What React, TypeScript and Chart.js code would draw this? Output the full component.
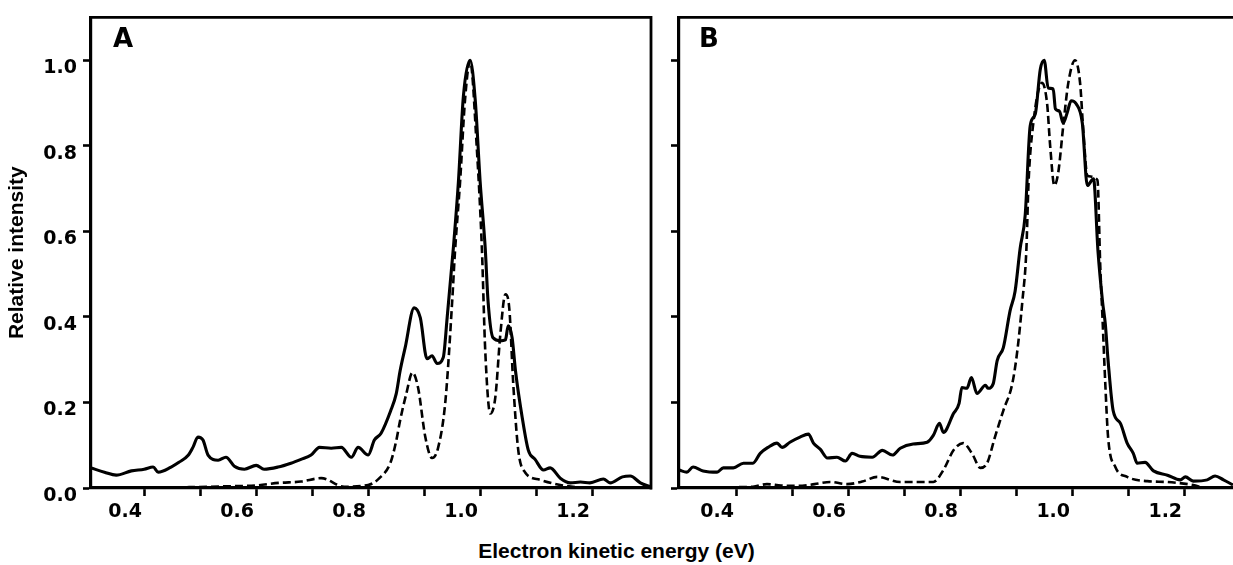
import React, { useEffect, useRef } from "react";
import Chart from "chart.js/auto";

// ---- Panel A ----
const A_SOLID_E = [
  0.305, 0.329, 0.35, 0.377, 0.40, 0.416, 0.425, 0.448, 0.462, 0.479,
  0.487, 0.496, 0.505, 0.514, 0.532, 0.546, 0.561, 0.579, 0.60, 0.614,
  0.639, 0.662, 0.68, 0.698, 0.713, 0.734, 0.752, 0.77, 0.782, 0.80,
  0.811, 0.823, 0.84, 0.85, 0.857, 0.866, 0.882, 0.893, 0.905, 0.914,
  0.923, 0.934, 0.941, 0.952, 0.961, 0.970, 0.982, 0.991, 1.0, 1.009,
  1.014, 1.023, 1.036, 1.045, 1.05, 1.057, 1.063, 1.075, 1.086, 1.098,
  1.113, 1.125, 1.143, 1.161, 1.179, 1.196, 1.22, 1.232, 1.254, 1.268,
  1.286, 1.305,
];
const A_SOLID_I = [
  0.047, 0.037, 0.030, 0.040, 0.044, 0.049, 0.037, 0.049, 0.060, 0.077,
  0.095, 0.119, 0.112, 0.077, 0.065, 0.072, 0.051, 0.044, 0.053, 0.044,
  0.049, 0.058, 0.067, 0.077, 0.095, 0.093, 0.095, 0.072, 0.095, 0.077,
  0.112, 0.128, 0.18, 0.22, 0.274, 0.328, 0.421, 0.398, 0.302, 0.309,
  0.291, 0.305, 0.398, 0.56, 0.714, 0.916, 1.0, 0.909, 0.714, 0.56,
  0.437, 0.351, 0.344, 0.346, 0.379, 0.351, 0.274, 0.165, 0.088, 0.067,
  0.042, 0.047, 0.023, 0.012, 0.014, 0.012, 0.021, 0.012, 0.026, 0.028,
  0.012, 0.002,
];
const A_DASH_E = [
  0.305, 0.40, 0.48, 0.55, 0.60, 0.64, 0.68, 0.716, 0.757, 0.80,
  0.82, 0.84, 0.85, 0.857, 0.868, 0.879, 0.889, 0.902, 0.914, 0.925,
  0.938, 0.95, 0.955, 0.964, 0.973, 0.982, 0.994, 1.003, 1.009, 1.018,
  1.027, 1.036, 1.045, 1.052, 1.059, 1.068, 1.080, 1.107, 1.143, 1.173,
  1.22, 1.305,
];
const A_DASH_I = [
  0.0, 0.0, 0.002, 0.004, 0.006, 0.012, 0.015, 0.023, 0.003, 0.007,
  0.023, 0.06, 0.11, 0.158, 0.22, 0.27, 0.235, 0.119, 0.07, 0.095,
  0.205, 0.437, 0.553, 0.714, 0.909, 0.998, 0.793, 0.56, 0.321, 0.174,
  0.212, 0.36, 0.453, 0.419, 0.244, 0.088, 0.037, 0.019, 0.007, 0.002,
  0.0, 0.0,
];

// ---- Panel B ----
const B_SOLID_E = [
  0.298, 0.312, 0.323, 0.341, 0.366, 0.377, 0.395, 0.413, 0.43, 0.443,
  0.457, 0.473, 0.482, 0.496, 0.514, 0.529, 0.538, 0.55, 0.563, 0.58,
  0.595, 0.607, 0.621, 0.643, 0.661, 0.679, 0.693, 0.716, 0.741, 0.752,
  0.763, 0.77, 0.788, 0.798, 0.803, 0.812, 0.82, 0.83, 0.845, 0.85,
  0.859, 0.866, 0.877, 0.889, 0.898, 0.907, 0.916, 0.925, 0.934, 0.943,
  0.95, 0.957, 0.966, 0.97, 0.977, 0.984, 0.991, 0.998, 1.007, 1.018,
  1.027, 1.038, 1.046, 1.054, 1.059, 1.064, 1.073, 1.086, 1.098, 1.109,
  1.116, 1.13, 1.145, 1.17, 1.193, 1.202, 1.216, 1.241, 1.255, 1.27,
  1.287,
];
const B_SOLID_I = [
  0.042, 0.037, 0.049, 0.040, 0.037, 0.047, 0.047, 0.058, 0.058, 0.081,
  0.095, 0.105, 0.095, 0.107, 0.119, 0.126, 0.105, 0.091, 0.070, 0.072,
  0.063, 0.081, 0.074, 0.072, 0.088, 0.077, 0.093, 0.103, 0.107, 0.123,
  0.151, 0.130, 0.174, 0.198, 0.235, 0.233, 0.258, 0.221, 0.240, 0.233,
  0.244, 0.298, 0.328, 0.414, 0.46, 0.56, 0.637, 0.847, 0.874, 0.979,
  1.0, 0.935, 0.933, 0.886, 0.881, 0.853, 0.877, 0.905, 0.898, 0.853,
  0.707, 0.723, 0.553, 0.437, 0.384, 0.298, 0.181, 0.151, 0.105, 0.081,
  0.058, 0.060, 0.040, 0.030, 0.019, 0.026, 0.016, 0.019, 0.028, 0.019,
  0.007,
];
const B_DASH_E = [
  0.298, 0.37, 0.40, 0.43, 0.455, 0.48, 0.51, 0.54, 0.568, 0.598,
  0.625, 0.652, 0.693, 0.752, 0.77, 0.788, 0.805, 0.821, 0.836, 0.848,
  0.862, 0.877, 0.893, 0.902, 0.911, 0.918, 0.922, 0.93, 0.946, 0.955,
  0.961, 0.968, 0.975, 0.984, 0.993, 1.005, 1.014, 1.02, 1.027, 1.045,
  1.05, 1.054, 1.059, 1.064, 1.077, 1.098, 1.134, 1.17, 1.216, 1.24,
  1.287,
];
const B_DASH_I = [
  0.0, 0.0, 0.002, 0.003, 0.009, 0.006, 0.005, 0.009, 0.014, 0.009,
  0.015, 0.026, 0.014, 0.014, 0.042, 0.088, 0.105, 0.081, 0.047, 0.058,
  0.119, 0.181, 0.244, 0.321, 0.437, 0.553, 0.714, 0.847, 0.947, 0.9,
  0.793, 0.707, 0.737, 0.847, 0.947, 1.0, 0.947, 0.83, 0.73, 0.72,
  0.52, 0.398, 0.244, 0.119, 0.049, 0.026, 0.016, 0.014, 0.007, 0.0,
  0.0,
];

// ---- Axes ----
const X_TICKS = [0.4, 0.5, 0.6, 0.7, 0.8, 0.9, 1.0, 1.1, 1.2];
const Y_TICKS = [0.0, 0.2, 0.4, 0.6, 0.8, 1.0];
const A_RANGE = [0.305, 1.305];
const B_RANGE = [0.298, 1.287];
const Y_MAX = 1.1;
const Y_TITLE = "Relative intensity";
const X_TITLE = "Electron kinetic energy (eV)";

const TICK_FONT = { family: "'DejaVu Sans', sans-serif", weight: "bold" as const, size: 19 };

function pts(xs: number[], ys: number[]) {
  return xs.map((x, i) => ({ x, y: ys[i] }));
}

function framePlugin(letter: string, letterX: number, rightBorder: boolean) {
  return {
    id: "frame" + letter,
    afterDraw(chart: any) {
      const { ctx, chartArea } = chart;
      const { left, top, right, bottom } = chartArea;
      ctx.save();
      ctx.strokeStyle = "#000";
      ctx.lineWidth = 2.8;
      ctx.beginPath();
      ctx.moveTo(left - 1.5, top);
      ctx.lineTo(right, top);
      if (rightBorder) ctx.lineTo(right, bottom + 1.5);
      ctx.stroke();
      ctx.fillStyle = "#000";
      ctx.font = "bold 26px 'DejaVu Sans', sans-serif";
      ctx.textBaseline = "alphabetic";
      ctx.textAlign = "left";
      ctx.fillText(letter, letterX, 47);
      ctx.restore();
    },
  };
}

function makeConfig(
  solidE: number[], solidI: number[], dashE: number[], dashI: number[],
  range: number[], yWidth: number, showY: boolean, padRight: number
): any {
  return {
    type: "line",
    data: {
      datasets: [
        {
          data: pts(solidE, solidI),
          borderColor: "#000",
          borderWidth: 3.1,
          pointRadius: 0,
          fill: false,
          cubicInterpolationMode: "monotone",
        },
        {
          data: pts(dashE, dashI),
          borderColor: "#000",
          borderWidth: 2.6,
          borderDash: [8, 4],
          pointRadius: 0,
          fill: false,
          cubicInterpolationMode: "monotone",
        },
      ],
    },
    options: {
      animation: false,
      responsive: false,
      maintainAspectRatio: false,
      layout: { padding: { left: 0, top: 14, right: padRight, bottom: 0 } },
      plugins: { legend: { display: false }, tooltip: { enabled: false } },
      scales: {
        x: {
          type: "linear",
          min: range[0],
          max: range[1],
          afterBuildTicks: (s: any) => {
            s.ticks = X_TICKS.map((v) => ({ value: v }));
          },
          afterFit: (s: any) => {
            s.height = 47;
          },
          ticks: {
            font: TICK_FONT,
            color: "#000",
            padding: 5,
            labelOffset: -19,
            maxRotation: 0,
            autoSkip: false,
            callback: (v: number) =>
              Math.round(v * 10) % 2 === 0 ? Number(v).toFixed(1) : "",
          },
          grid: {
            drawOnChartArea: false,
            drawTicks: true,
            tickLength: 8,
            tickWidth: 2.6,
            tickColor: "#000",
          },
          border: { display: true, color: "#000", width: 3.2 },
        },
        y: {
          type: "linear",
          min: 0,
          max: Y_MAX,
          afterBuildTicks: (s: any) => {
            s.ticks = Y_TICKS.map((v) => ({ value: v }));
          },
          afterFit: (s: any) => {
            s.width = yWidth;
          },
          title: {
            display: showY,
            text: Y_TITLE,
            color: "#000",
            font: { family: "'Liberation Sans', Arial, sans-serif", weight: "bold", size: 21 },
            padding: { top: 5, bottom: 0 },
          },
          ticks: {
            font: TICK_FONT,
            color: "#000",
            padding: 6,
            labelOffset: 8,
            autoSkip: false,
            callback: (v: number) => (showY ? Number(v).toFixed(1) : ""),
          },
          grid: {
            drawOnChartArea: false,
            drawTicks: true,
            tickLength: 8,
            tickWidth: 2.6,
            tickColor: "#000",
          },
          border: { display: true, color: "#000", width: 3.2 },
        },
      },
    },
  };
}

export default function App() {
  const refA = useRef<HTMLCanvasElement | null>(null);
  const refB = useRef<HTMLCanvasElement | null>(null);

  useEffect(() => {
    const cfgA = makeConfig(A_SOLID_E, A_SOLID_I, A_DASH_E, A_DASH_I, A_RANGE, 91, true, 14);
    cfgA.plugins = [framePlugin("A", 113, true)];
    const cfgB = makeConfig(B_SOLID_E, B_SOLID_I, B_DASH_E, B_DASH_I, B_RANGE, 24, false, 0);
    cfgB.plugins = [framePlugin("B", 44, false)];
    const a = new Chart(refA.current as HTMLCanvasElement, cfgA);
    const b = new Chart(refB.current as HTMLCanvasElement, cfgB);
    return () => {
      a.destroy();
      b.destroy();
    };
  }, []);

  return (
    <div
      style={{
        position: "fixed",
        left: 0,
        top: 0,
        width: 1233,
        height: 565,
        background: "#fff",
        overflow: "hidden",
      }}
    >
      <canvas
        ref={refA}
        width={665}
        height={535}
        style={{ position: "absolute", left: 0, top: 0, width: 665, height: 535 }}
      />
      <canvas
        ref={refB}
        width={578}
        height={535}
        style={{ position: "absolute", left: 655, top: 0, width: 578, height: 535 }}
      />
      <div
        style={{
          position: "absolute",
          left: 0,
          top: 538,
          width: 1233,
          textAlign: "center",
          fontFamily: "'Liberation Sans', Arial, sans-serif",
          fontWeight: "bold",
          fontSize: 21,
          lineHeight: "25px",
          color: "#000",
        }}
      >
        {X_TITLE}
      </div>
    </div>
  );
}
